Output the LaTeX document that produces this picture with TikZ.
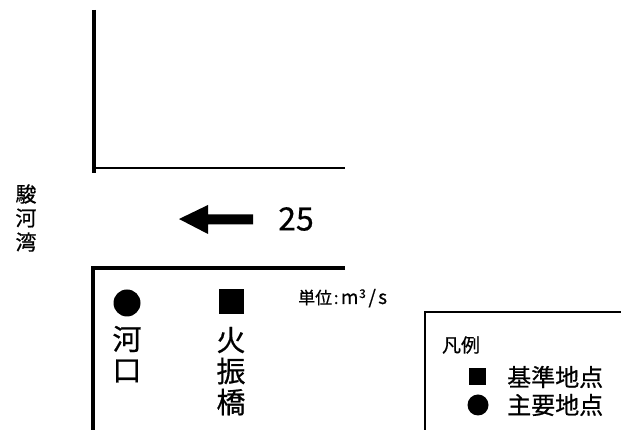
\documentclass[tikz,border=0pt]{standalone}
\usepackage{fontspec}
\setmainfont{Noto Sans CJK JP}[FakeBold=0.6]
\begin{document}
\begin{tikzpicture}[x=1pt,y=1pt,
  chr/.style={inner sep=0pt,anchor=center},
  thickline/.style={line width=3.3pt},
  thinline/.style={line width=1.8pt}]
\useasboundingbox (0,0) rectangle (621,430);
\clip (0,0) rectangle (621,430);
% river banks
\coordinate (ua) at (94,420);
\coordinate (ub) at (94,257);
\coordinate (uc) at (94,262);
\coordinate (ud) at (345,262);
\draw[thickline] (ua) -- (ub);
\draw[thinline] (uc) -- (ud);
\coordinate (la) at (345,162);
\coordinate (lb) at (93,162);
\coordinate (lc) at (93,-5);
\draw[thickline] (la) -- (lb) -- (lc);
% bay label
\node[chr,font=\fontsize{21}{21}\selectfont] (b1) at (26,236) {駿};
\node[chr,font=\fontsize{21}{21}\selectfont] (b2) at (26,212) {河};
\node[chr,font=\fontsize{21}{21}\selectfont] (b3) at (26,188) {湾};
% flow arrow
\fill (179,211) -- (208,225) -- (208,215.5) -- (253,215.5) -- (253,205.5) -- (208,205.5) -- (208,196) -- cycle;
\node[chr,font=\fontsize{32}{32}\selectfont] (q) at (296,211) {25};
% unit
\node[inner sep=0pt,anchor=base west,font=\fontsize{17}{17}\selectfont] (unit) at (298,126)
  {単位\makebox[8pt]{:}{\fontsize{19}{19}\selectfont\makebox[19pt]{m}\makebox[6pt][l]{\raisebox{6pt}{\fontsize{12}{12}\selectfont 3}}\makebox[14pt]{/}\hspace{-1pt}s}};
% stations
\node[circle,fill,inner sep=0pt,minimum size=27pt] (c1) at (127,127) {};
\node[chr,font=\fontsize{29}{29}\selectfont] (k1) at (127,91) {河};
\node[chr,font=\fontsize{29}{29}\selectfont] (k2) at (127,59) {口};
\node[rectangle,fill,inner sep=0pt,minimum size=25pt] (s1) at (231,128) {};
\node[chr,font=\fontsize{29}{29}\selectfont] (h1) at (231,90) {火};
\node[chr,font=\fontsize{29}{29}\selectfont] (h2) at (231,59) {振};
\node[chr,font=\fontsize{29}{29}\selectfont] (h3) at (231,28) {橋};
% legend
\coordinate (ga) at (625,118);
\coordinate (gb) at (425,118);
\coordinate (gc) at (425,-5);
\draw[line width=2.4pt] (ga) -- (gb) -- (gc);
\node[chr,font=\fontsize{19}{19}\selectfont] (lg) at (461,85) {凡例};
\node[rectangle,fill,inner sep=0pt,minimum size=17pt] (ls) at (477,53) {};
\node[chr,font=\fontsize{24}{24}\selectfont,anchor=west] (lt1) at (507,53) {基準地点};
\node[circle,fill,inner sep=0pt,minimum size=21pt] (lc1) at (478,25) {};
\node[chr,font=\fontsize{24}{24}\selectfont,anchor=west] (lt2) at (507,25) {主要地点};
\end{tikzpicture}
\end{document}
